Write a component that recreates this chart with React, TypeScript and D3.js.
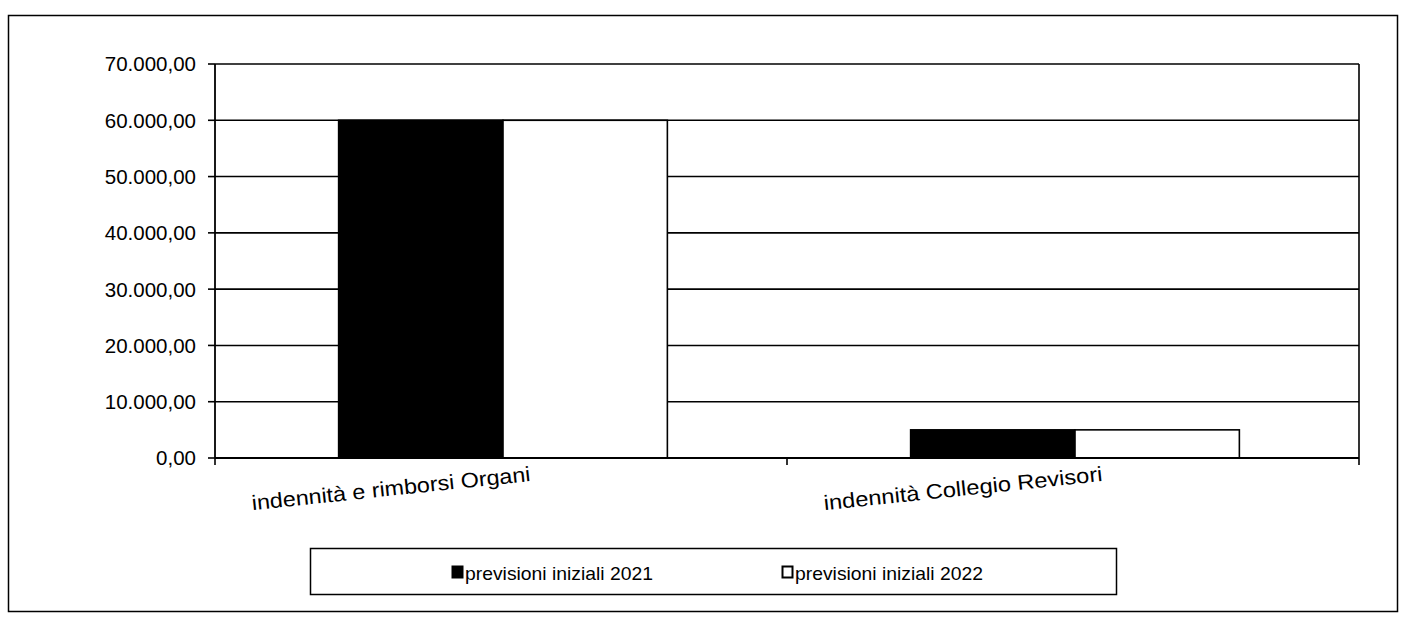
import React from "react";
import * as d3 from "d3";

const categories = ["indennità e rimborsi Organi", "indennità Collegio Revisori"];
const seriesNames = ["previsioni iniziali 2021", "previsioni iniziali 2022"];
const values2021 = [60000, 5000];
const values2022 = [60000, 5000];
const yTicks = [0, 10000, 20000, 30000, 40000, 50000, 60000, 70000];

const W = 1402;
const H = 622;
const plot = { left: 215, right: 1359, top: 64, bottom: 458 };
const font = "'Liberation Sans', Arial, sans-serif";

const fmt = (v: number) => {
  const s = d3.format(",.2f")(v);
  return s.replace(/,/g, "#").replace(".", ",").replace(/#/g, ".");
};

export default function App() {
  const y = d3.scaleLinear().domain([0, 70000]).range([plot.bottom, plot.top]);
  const x0 = d3.scaleBand<string>().domain(categories).range([plot.left, plot.right]).paddingInner(0).paddingOuter(0);
  const x1 = d3
    .scaleBand<string>()
    .domain(seriesNames)
    .range([0, x0.bandwidth()])
    .paddingInner(0)
    .paddingOuter(0.74);
  const data = [values2021, values2022];
  const fills = ["#000000", "#ffffff"];

  return (
    <svg width={W} height={H} style={{ position: "absolute", left: 0, top: 0 }} fontFamily={font}>
      <rect x={0} y={0} width={W} height={H} fill="#fff" />
      <rect x={8.5} y={15.5} width={1389} height={596} fill="none" stroke="#000" strokeWidth={1.5} />
      {yTicks.filter((t) => t > 0).map((t) => (
        <line key={t} x1={plot.left} x2={plot.right} y1={y(t)} y2={y(t)} stroke="#000" strokeWidth={1.6} />
      ))}
      <line x1={plot.right} x2={plot.right} y1={plot.top} y2={plot.bottom} stroke="#000" strokeWidth={1.6} />
      {categories.map((c, ci) =>
        seriesNames.map((s, si) => {
          const v = data[si][ci];
          return (
            <rect
              key={c + s}
              x={(x0(c) ?? 0) + (x1(s) ?? 0) + 2}
              y={y(v)}
              width={x1.bandwidth()}
              height={y(0) - y(v)}
              fill={fills[si]}
              stroke="#000"
              strokeWidth={1.6}
            />
          );
        })
      )}
      <line x1={plot.left} x2={plot.left} y1={plot.top} y2={plot.bottom} stroke="#000" strokeWidth={1.8} />
      {yTicks.map((t) => (
        <g key={t}>
          <line x1={plot.left - 7} x2={plot.left} y1={y(t)} y2={y(t)} stroke="#000" strokeWidth={1.6} />
          <text x={196} y={y(t)} dy="0.36em" textAnchor="end" fontSize={20.5} fill="#000">
            {fmt(t)}
          </text>
        </g>
      ))}
      <line x1={plot.left} x2={plot.right} y1={plot.bottom} y2={plot.bottom} stroke="#000" strokeWidth={1.8} />
      {[plot.left, ...categories.map((c) => (x0(c) ?? 0) + x0.bandwidth())].map((xx, i) => (
        <line key={i} x1={xx} x2={xx} y1={plot.bottom} y2={plot.bottom + 7} stroke="#000" strokeWidth={1.6} />
      ))}
      {categories.map((c) => {
        const cx = (x0(c) ?? 0) + x0.bandwidth() / 2 + 30;
        const cy = 481;
        return (
          <text
            key={c}
            x={cx}
            y={cy}
            textAnchor="end"
            fontSize={21}
            transform={`rotate(-6 ${cx} ${cy})`}
            fill="#000"
            textLength={280}
            lengthAdjust="spacingAndGlyphs"
          >
            {c}
          </text>
        );
      })}
      <rect x={310.5} y={548.5} width={806} height={46} fill="#fff" stroke="#000" strokeWidth={1.5} />
      {seriesNames.map((s, i) => {
        const lx = i === 0 ? 452 : 782;
        return (
          <g key={s}>
            <rect x={lx + 0.5} y={566.5} width={10} height={11} fill={fills[i]} stroke="#000" strokeWidth={2} />
            <text x={lx + 13} y={580} fontSize={19} fill="#000" textLength={188} lengthAdjust="spacingAndGlyphs">
              {s}
            </text>
          </g>
        );
      })}
    </svg>
  );
}
